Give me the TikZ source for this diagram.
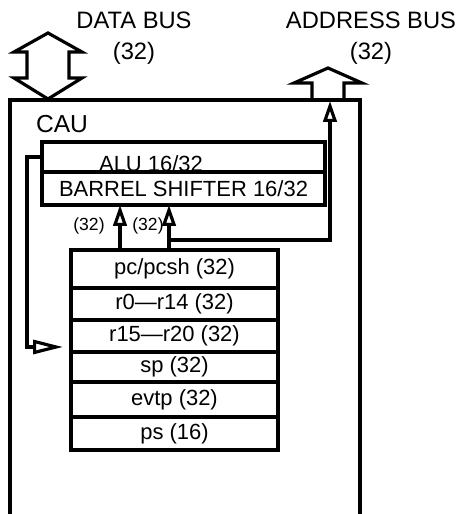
\documentclass[tikz,border=0pt]{standalone}
\usepackage{fontspec}
\setsansfont{Liberation Sans}
\usetikzlibrary{arrows.meta,positioning}

\begin{document}
\begin{tikzpicture}[
  x=0.02cm, y=-0.02cm,
  font=\sffamily\fontsize{12.5}{15}\selectfont,
  line width=1.8pt,
  reg/.style={draw,inner sep=0pt,outer sep=0pt,minimum width=4.14cm},
  unit/.style={draw,inner sep=0pt,outer sep=0pt,minimum width=5.66cm},
  bus/.style={align=center,font=\sffamily\fontsize{13.5}{18}\selectfont},
  wid/.style={font=\sffamily\fontsize{10}{11}\selectfont},
  arr/.style={-{Triangle[open,length=0.42cm,width=0.27cm]}},
  fbarr/.style={-{Triangle[open,length=0.6cm,width=0.28cm]},shorten >=0.16cm}
]
\useasboundingbox (0,0) rectangle (459,514);
% buses
\node[bus] (dbus) at (134,38) {DATA BUS\\(32)};
\node[bus] (abus) at (371,38) {ADDRESS BUS\\(32)};
\draw[line join=miter] (48,33) -- (82,52) -- (69,52) -- (69,78) -- (82,78) -- (48,99)
  -- (14,78) -- (27,78) -- (27,52) -- (14,52) -- cycle;
\draw[line join=miter] (312,100) -- (312,83) -- (294,83) -- (328,68) -- (362,83)
  -- (344,83) -- (344,100);
% CAU
\draw (10,514) -- (10,100) -- (360,100) -- (360,514);
\node[font=\sffamily\fontsize{14}{16}\selectfont] (cau) at (62,124) {CAU};
% ALU + shifter
\node[unit,minimum height=0.6cm,text height=0.56cm,text depth=0pt] (alu) at (183.5,157) {ALU 16/32\hspace*{1.3cm}};
\node[unit,minimum height=0.66cm,below=0pt of alu] (shift) {BARREL SHIFTER 16/32};
% registers
\node[reg,minimum height=0.76cm] (pc) at (174.5,269) {pc/pcsh (32)};
\node[reg,minimum height=0.64cm,below=0pt of pc] (r0) {r0—r14 (32)};
\node[reg,minimum height=0.64cm,below=0pt of r0] (r15) {r15—r20 (32)};
\node[reg,minimum height=0.6cm,below=0pt of r15] (sp) {sp (32)};
\node[reg,minimum height=0.7cm,below=0pt of sp] (evtp) {evtp (32)};
\node[reg,minimum height=0.66cm,below=0pt of evtp] (ps) {ps (16)};
\node[wid] (w1) at (89,226) {(32)};
\node[wid] (w2) at (148,226) {(32)};

\coordinate (xa) at (120,0);
\coordinate (xb) at (169,0);
\coordinate (fb) at (27,0);
\coordinate (tap) at (169,240);
\coordinate (aout) at (330,101);
\draw[arr] (xa |- pc.north) -- (xa |- shift.south);
\draw[arr] (xb |- pc.north) -- (xb |- shift.south);
\draw[arr] (tap) -| (aout);
\draw[fbarr] (alu.west) -- (alu.west -| fb) |- ([yshift=-0.22cm]r15.west);
\end{tikzpicture}
\end{document}
